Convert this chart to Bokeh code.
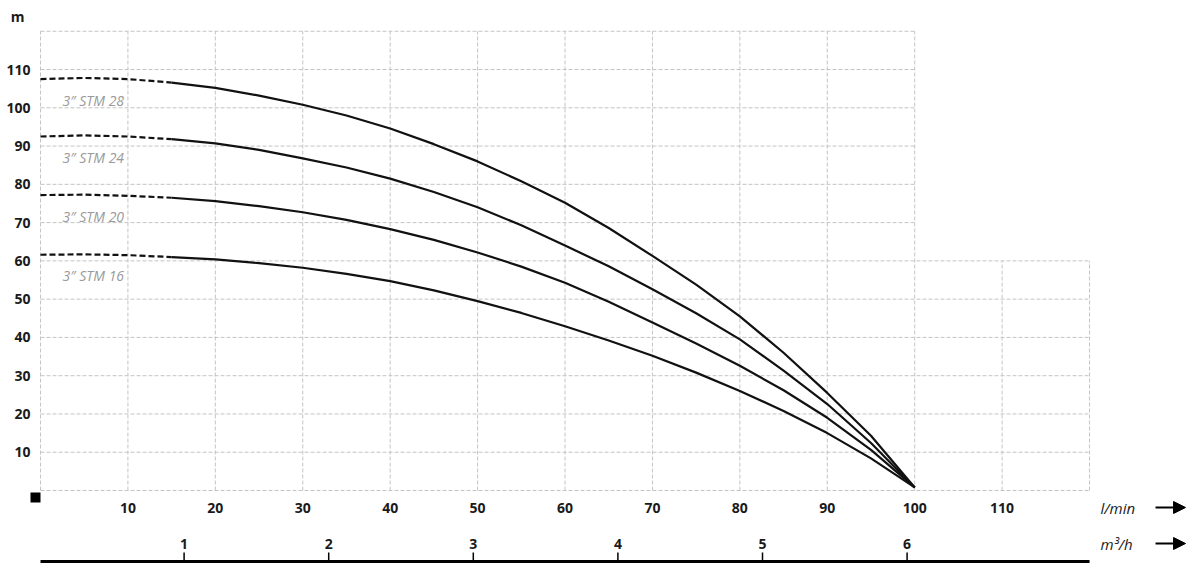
from bokeh.plotting import figure
from bokeh.models import Range1d, Arrow, NormalHead
from bokeh.core.properties import value
from bokeh.embed import file_html
from bokeh.resources import INLINE

# ---------------- data ----------------
flow_lpm = [0, 5, 10, 15, 20, 25, 30, 35, 40, 45, 50, 55, 60, 65, 70, 75, 80, 85, 90, 95, 100]
head_stm28 = [107.5, 107.8, 107.5, 106.6, 105.2, 103.2, 100.8, 98.0, 94.6, 90.5, 86.0, 80.8, 75.2, 68.6, 61.3, 53.8, 45.5, 36.0, 25.5, 14.3, 0.8]
head_stm24 = [92.5, 92.8, 92.5, 91.8, 90.7, 89.0, 86.8, 84.4, 81.5, 78.0, 74.0, 69.3, 64.0, 58.6, 52.6, 46.3, 39.5, 31.3, 22.6, 12.4, 0.8]
head_stm20 = [77.2, 77.3, 77.0, 76.5, 75.6, 74.3, 72.7, 70.7, 68.3, 65.5, 62.2, 58.5, 54.3, 49.3, 43.9, 38.4, 32.6, 26.2, 19.0, 10.6, 0.8]
head_stm16 = [61.6, 61.7, 61.5, 61.0, 60.4, 59.4, 58.2, 56.6, 54.7, 52.3, 49.5, 46.4, 42.9, 39.2, 35.2, 30.8, 26.0, 20.8, 15.0, 8.4, 0.8]
series_names = ["3\u2033 STM 28", "3\u2033 STM 24", "3\u2033 STM 20", "3\u2033 STM 16"]
dashed_until_lpm = 15

y_ticks = [10, 20, 30, 40, 50, 60, 70, 80, 90, 100, 110]
x_ticks = [10, 20, 30, 40, 50, 60, 70, 80, 90, 100, 110]
m3h_ticks = [1, 2, 3, 4, 5, 6]
y_unit = "m"
x_unit = "l/min"
m3h_unit = "m\u00b3/h"

grid_step = 10
grid_x_max, grid_y_max = 120, 120
grid_full_width_below = 60   # horizontal lines above this stop at x = 100
grid_narrow_x = 100

# ---------------- layout ----------------
W, H = 1189, 571
PX_X = 8.742      # pixels per l/min
PX_Y = 3.827      # pixels per metre
X0, Y0 = 40, 490  # pixel position of the origin inside the figure
PX_M3H = 144.6    # pixels per m3/h on the lower scale
X0_M3H = 39

def dx(px):
    return px / PX_X

def dy(px):
    return px / PX_Y

p = figure(width=W, height=H, output_backend="svg", toolbar_location=None,
           x_range=Range1d(-X0 / PX_X, (W - X0) / PX_X),
           y_range=Range1d(-(H - Y0) / PX_Y, Y0 / PX_Y),
           x_axis_location=None, y_axis_location=None,
           min_border=0, outline_line_color=None, background_fill_color="white")
p.xgrid.visible = False
p.ygrid.visible = False
p.extra_x_ranges = {"m3h": Range1d(-X0_M3H / PX_M3H, (W - X0_M3H) / PX_M3H)}

# ---------------- grid ----------------
grid_color = "#c4c4c4"
hy = list(range(0, grid_y_max + 1, grid_step))
hx1 = [grid_x_max if v <= grid_full_width_below else grid_narrow_x for v in hy]
p.segment(x0=[0] * len(hy), y0=hy, x1=hx1, y1=hy, line_color=grid_color,
          line_width=1, line_dash="4 2")
vx = list(range(0, grid_x_max + 1, grid_step))
vy1 = [grid_y_max if v <= grid_narrow_x else grid_full_width_below for v in vx]
p.segment(x0=vx, y0=[0] * len(vx), x1=vx, y1=vy1, line_color=grid_color,
          line_width=1, line_dash="4 2")

# ---------------- curves ----------------
curves = [head_stm28, head_stm24, head_stm20, head_stm16]
k = flow_lpm.index(dashed_until_lpm)
for name, hv in zip(series_names, curves):
    p.line(flow_lpm[:k + 1], hv[:k + 1], line_color="#111111", line_width=2.2,
           line_dash="6 3", line_join="round")
    p.line(flow_lpm[k:], hv[k:], line_color="#111111", line_width=2.2,
           line_join="round")
    p.text(x=[dx(22)], y=[hv[0] - dy(21)], text=[name],
           text_font=value("Open Sans"), text_font_style="italic",
           text_font_size="14px", text_color="#9a9a9a",
           text_align="left", text_baseline="middle")

# origin marker
p.rect(x=[-dx(5)], y=[-dy(7)], width=10, height=10, width_units="screen",
       height_units="screen", fill_color="black", line_color=None)

# ---------------- tick labels ----------------
font = value("Open Sans")
p.text(x=[-dx(10)] * len(y_ticks), y=y_ticks, text=[str(t) for t in y_ticks],
       text_font=font, text_font_style="bold", text_font_size="14px",
       text_color="#1a1a1a", text_align="right", text_baseline="middle")
p.text(x=[-dx(23)], y=[Y0 / PX_Y - dy(16)], text=[y_unit],
       text_font=font, text_font_style="bold", text_font_size="14px",
       text_color="#1a1a1a", text_align="center", text_baseline="middle")

row1 = -dy(17)
p.text(x=x_ticks, y=[row1] * len(x_ticks), text=[str(t) for t in x_ticks],
       text_font=font, text_font_style="bold", text_font_size="14px",
       text_color="#1a1a1a", text_align="center", text_baseline="middle")

row2 = -dy(53)
p.text(x=m3h_ticks, y=[row2] * len(m3h_ticks), text=[str(t) for t in m3h_ticks],
       x_range_name="m3h",
       text_font=font, text_font_style="bold", text_font_size="14px",
       text_color="#1a1a1a", text_align="center", text_baseline="middle")

line_y = -dy(71)
p.segment(x0=[0], y0=[line_y], x1=[grid_x_max], y1=[line_y], line_color="black",
          line_width=3)
p.segment(x0=m3h_ticks, y0=[line_y] * len(m3h_ticks), x1=m3h_ticks,
          y1=[line_y + dy(9)] * len(m3h_ticks), x_range_name="m3h",
          line_color="black", line_width=1.5)

# unit labels and arrows
unit_x = grid_x_max + dx(11)
p.text(x=[unit_x, unit_x], y=[row1, row2], text=[x_unit, m3h_unit],
       text_font=font, text_font_style="italic", text_font_size="15px",
       text_color="#1a1a1a", text_align="left", text_baseline="middle")
for ry in (row1, row2):
    p.add_layout(Arrow(x_start=grid_x_max + dx(66), y_start=ry,
                       x_end=grid_x_max + dx(96), y_end=ry,
                       line_color="black", line_width=2,
                       end=NormalHead(size=12, fill_color="black", line_color="black")))

open("out.html", "w").write(file_html(p, INLINE))
